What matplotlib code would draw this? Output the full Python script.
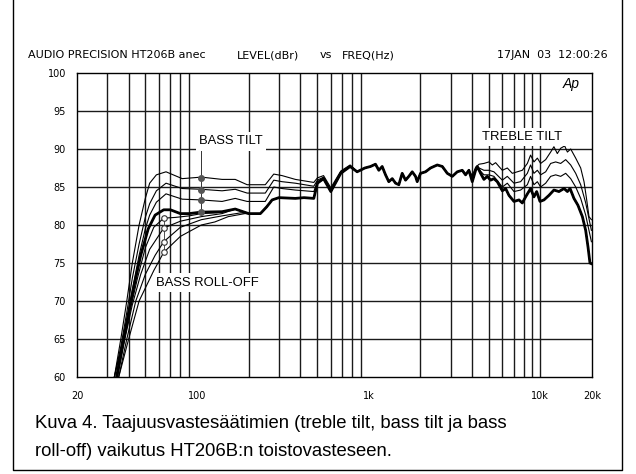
import numpy as np
import matplotlib
matplotlib.use('Agg')
import matplotlib.pyplot as plt
from matplotlib.lines import Line2D

plt.rcParams['font.family'] = ['Liberation Sans', 'DejaVu Sans']

# base response (thick line)
base_f = [34, 37, 40, 43, 47, 52, 57, 64, 70, 80, 90, 106, 140, 167, 200, 234, 255, 274,
          300, 374, 420, 479, 503, 546, 602, 688, 780, 857, 950,
          1025, 1096, 1146, 1199, 1254, 1310, 1372, 1435, 1499, 1568, 1640, 1714, 1794,
          1875, 1918, 2006, 2144, 2293, 2510, 2685, 2871, 3070, 3283, 3510, 3669, 3837,
          4015, 4198, 4295, 4488, 4692, 4910, 5133, 5367, 5614, 6008, 6281, 6565, 7024,
          7508, 7854, 8210, 8775, 9181, 9523, 9954, 10500, 11230, 12000, 12840, 13740,
          14380, 14900, 15700, 16560, 17580, 18370, 18960, 19460, 19900]
base_db = [60, 64.5, 68.5, 72, 76, 79.5, 81.3, 82.0, 82.0, 81.5, 81.5, 81.7, 81.75, 82.1, 81.5, 81.5, 82.4, 83.3,
           83.6, 83.5, 83.6, 83.5, 85.5, 86.1, 84.4, 86.8, 87.7, 87.0, 87.5,
           87.7, 88.0, 87.2, 87.7, 86.6, 85.7, 86.1, 85.5, 85.3, 86.8, 85.9, 86.4, 87.0,
           86.4, 85.7, 86.8, 87.0, 87.5, 87.9, 87.7, 86.8, 86.4, 87.0, 87.2, 86.6, 87.2,
           85.7, 87.2, 87.7, 86.8, 86.0, 86.4, 85.9, 86.1, 85.7, 84.5, 84.8, 83.9, 83.1,
           83.3, 82.9, 83.7, 84.8, 83.7, 84.4, 83.1, 83.3, 83.9, 84.6, 84.4, 84.8,
           84.4, 84.8, 83.5, 82.6, 81.1, 79.3, 77.1, 75.0, 74.9]

# bass tilt curves (differ below ~850 Hz, then follow base)
tilt_f = [33, 36, 39, 42, 46, 50, 53, 58, 66, 82, 106, 140, 167, 196, 250, 280, 313, 374,
          479, 503, 546, 602, 688, 780]
tilt3_db = [60, 65, 70, 75, 80, 83.5, 85.5, 86.6, 87.0, 86.1, 86.3, 86.0, 86.0, 85.3, 85.3,
            86.7, 86.5, 86.0, 85.6, 86.2, 86.5, 84.9, 87.1, 87.9]
tilt2_db = [60, 64, 68.5, 73, 77.5, 81, 82.8, 84.5, 85.5, 84.8, 84.7, 84.5, 84.7, 84.2, 84.2,
            85.9, 85.7, 85.5, 85.1, 85.9, 86.3, 84.7, 87.0, 87.8]
tilt1_db = [60, 63.5, 67.5, 71.5, 76, 79.5, 81.3, 83.0, 84.1, 83.4, 83.3, 83.1, 83.5, 83.1, 83.1,
            85.0, 84.8, 84.6, 84.4, 85.7, 86.2, 84.6, 86.9, 87.8]

# bass roll-off curves (differ below ~200 Hz)
roll1_f = [34, 37.5, 41, 45, 50, 56, 64, 75, 90, 106, 130]
roll1_db = [60, 64.5, 69, 73, 77, 79.7, 80.9, 81.0, 81.2, 81.5, 81.6]
roll2_f = [34.5, 38, 42, 47, 53, 64, 80, 106, 140]
roll2_db = [60, 65, 69.5, 73.5, 76.8, 79.6, 80.5, 81.1, 81.5]
roll3_f = [35, 39, 44, 50, 57, 64, 80, 106, 140, 180]
roll3_db = [60, 65, 70, 73.5, 76, 77.8, 79.7, 80.7, 81.2, 81.6]
roll4_f = [35, 40, 46, 56, 64, 80, 106, 127, 152, 190]
roll4_db = [60, 65, 70, 74, 76.4, 78.5, 80.0, 80.4, 81.1, 81.5]

# treble tilt curves (differ above ~3.8 kHz)
treb3_f = [3837, 4015, 4198, 4400, 4692, 5020, 5252, 5490, 5740, 6008, 6422, 6870, 7345, 7854,
           8402, 8775, 9181, 9610, 10044, 10742, 11488, 12000, 12560, 13138, 13860, 14380,
           15027, 16070, 17186, 17970, 18630, 19210, 19840]
treb3_db = [87.2, 86.5, 87.6, 88.0, 88.1, 88.3, 87.9, 88.2, 87.7, 87.2, 87.5, 86.8, 87.0, 87.2,
            88.1, 89.2, 88.3, 88.8, 88.1, 88.6, 89.6, 90.3, 89.4, 90.1, 90.4, 89.6,
            90.0, 88.8, 87.5, 85.7, 83.3, 81.1, 80.7]
treb_f = [3837, 4015, 4198, 4400, 4692, 5020, 5367, 6008, 6422, 7024, 7678, 8402, 8775, 9181,
          9610, 10044, 10742, 11488, 12286, 13138, 14052, 15027, 16070, 17186, 18380, 19840]
treb2_db = [87.2, 86.0, 87.4, 87.5, 87.2, 87.2, 87.0, 85.9, 86.4, 85.5, 85.7, 86.8, 87.9, 86.8,
            87.2, 86.6, 87.0, 88.1, 88.3, 88.1, 88.6, 87.9, 86.8, 85.3, 82.9, 79.3]
treb1_db = [87.2, 85.8, 87.3, 87.3, 86.6, 86.6, 86.4, 85.0, 85.5, 84.4, 84.6, 85.3, 86.4, 85.3,
            85.7, 85.0, 85.5, 86.4, 86.6, 86.4, 86.8, 86.1, 85.0, 83.5, 81.3, 77.8]

# marker positions
tilt_dot_f = 106
tilt_dot_db = [86.2, 84.6, 83.3, 81.7]
roll_dot_f = 64
roll_dot_db = [80.9, 79.6, 77.8, 76.4]

x_ticks = [20, 100, 1000, 10000, 20000]
x_labels = ['20', '100', '1k', '10k', '20k']
y_ticks = [60, 65, 70, 75, 80, 85, 90, 95, 100]


def join_low(f_low, db_low):
    # variant below, base curve above
    bf = np.array(base_f, dtype=float)
    bd = np.array(base_db, dtype=float)
    keep = bf > f_low[-1]
    return np.concatenate([f_low, bf[keep]]), np.concatenate([db_low, bd[keep]])


def join_high(f_hi, db_hi):
    # base curve below, variant above
    bf = np.array(base_f, dtype=float)
    bd = np.array(base_db, dtype=float)
    keep = bf < f_hi[0]
    return np.concatenate([bf[keep], f_hi]), np.concatenate([bd[keep], db_hi])


fig = plt.figure(figsize=(6.36, 4.74), dpi=100)
ax = fig.add_axes([77 / 636, 1 - 377 / 474, 515 / 636, 304 / 474])
ax.set_xscale('log')
ax.set_xlim(20, 20000)
ax.set_ylim(60, 100)

grid_c = '#1a1a1a'
for dec in [10, 100, 1000]:
    for m in range(2, 10):
        if dec * m > 20:
            ax.axvline(dec * m, color=grid_c, lw=1.0, zorder=1)
ax.axvline(10000, color=grid_c, lw=1.0, zorder=1)
for y in y_ticks[1:-1]:
    ax.axhline(y, color=grid_c, lw=1.0, zorder=1)

thin = dict(color='black', lw=0.8, zorder=3)
for f_low, db_low in [(tilt_f, tilt3_db), (tilt_f, tilt2_db), (tilt_f, tilt1_db),
                      (roll1_f, roll1_db), (roll2_f, roll2_db), (roll3_f, roll3_db),
                      (roll4_f, roll4_db)]:
    f, d = join_low(f_low, db_low)
    ax.plot(f, d, **thin)
for f_hi, db_hi in [(treb3_f, treb3_db), (treb_f, treb2_db), (treb_f, treb1_db)]:
    f, d = join_high(f_hi, db_hi)
    ax.plot(f, d, **thin)
ax.plot(base_f, base_db, color='black', lw=2.0, zorder=4)

# annotations
ax.plot([tilt_dot_f, tilt_dot_f], [tilt_dot_db[-1], 89.8], color='#333333', lw=0.7, zorder=5)
ax.plot([tilt_dot_f] * 4, tilt_dot_db, 'o', ms=4, color='#555555', zorder=6)
ax.plot([roll_dot_f, roll_dot_f], [roll_dot_db[0], roll_dot_db[-1]], color='#333333', lw=0.6, zorder=5)
ax.plot([roll_dot_f] * 4, roll_dot_db, 'o', ms=4, mfc='white', mec='#333333', mew=0.8, zorder=6)

box = dict(boxstyle='square,pad=0.25', fc='white', ec='none')
ax.text(103, 91.0, 'BASS TILT', fontsize=9.4, va='center', ha='left', bbox=box, zorder=7)
ax.text(4592, 91.6, 'TREBLE TILT', fontsize=9.4, va='center', ha='left', bbox=box, zorder=7)
ax.text(57.9, 72.4, 'BASS ROLL-OFF', fontsize=9.4, va='center', ha='left', bbox=box, zorder=7)
ax.text(15030, 98.6, 'Ap', fontsize=10, style='italic', va='center', ha='center', zorder=7)

ax.set_xticks(x_ticks)
ax.set_xticklabels(x_labels, family='DejaVu Sans')
ax.set_yticks(y_ticks)
ax.set_yticklabels([str(v) for v in y_ticks], family='DejaVu Sans')
ax.minorticks_off()
ax.tick_params(axis='x', length=0, pad=10, labelsize=7)
ax.tick_params(axis='y', length=0, pad=8, labelsize=7)
for s in ax.spines.values():
    s.set_linewidth(1.0)
    s.set_color('black')

# header line
hy = 1 - 55 / 474
fig.text(28 / 636, hy, 'AUDIO PRECISION HT206B anec', fontsize=8, va='center', ha='left',
         family='DejaVu Sans')
fig.text(237 / 636, hy, 'LEVEL(dBr)', fontsize=8, va='center', ha='left', family='DejaVu Sans')
fig.text(320 / 636, hy, 'vs', fontsize=8, va='center', ha='left', family='DejaVu Sans')
fig.text(342 / 636, hy, 'FREQ(Hz)', fontsize=8, va='center', ha='left', family='DejaVu Sans')
fig.text(608 / 636, hy, '17JAN  03  12:00:26', fontsize=8, va='center', ha='right',
         family='DejaVu Sans')

# caption
fig.text(35 / 636, 1 - 423 / 474, 'Kuva 4. Taajuusvastesäätimien (treble tilt, bass tilt ja bass',
         fontsize=13.3, va='center', ha='left')
fig.text(35 / 636, 1 - 452 / 474, 'roll-off) vaikutus HT206B:n toistovasteseen.',
         fontsize=13.3, va='center', ha='left')

# outer frame
fx = [12.5 / 636, 12.5 / 636, 622 / 636, 622 / 636]
fy = [1.0, 1 - 470 / 474, 1 - 470 / 474, 1.0]
fig.add_artist(Line2D(fx, fy, transform=fig.transFigure, color='black', lw=1.0))

fig.savefig('out.png', dpi=100)
